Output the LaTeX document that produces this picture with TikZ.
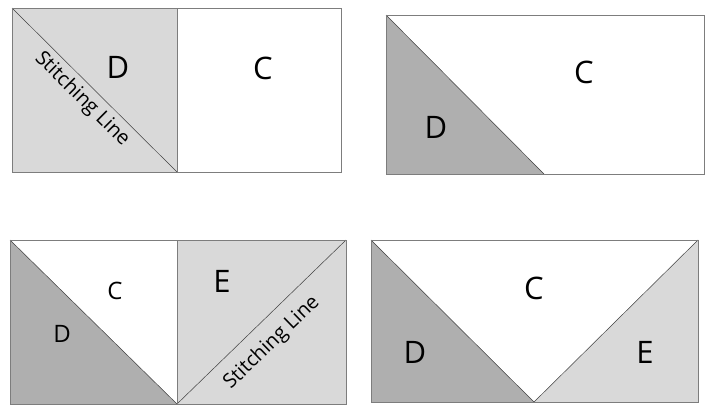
\documentclass[tikz,border=0pt]{standalone}
\usepackage{fontspec}
\setmainfont{Open Sans}
\definecolor{lightpatch}{RGB}{217,217,217}
\definecolor{darkpatch}{RGB}{175,175,175}
\definecolor{edgegray}{RGB}{125,125,125}
\usepackage{tikz}

\begin{document}
\begin{tikzpicture}[
        x=1pt, y=-1pt,
        block/.style={draw=edgegray, line width=0.9pt},
        seam/.style={draw=black!75, line width=0.5pt},
        letter/.style={font=\fontsize{31}{36}\selectfont, inner sep=0pt},
        smallletter/.style={font=\fontsize{24}{28}\selectfont, inner sep=0pt},
        stitch/.style={font=\fontsize{20}{24}\selectfont, sloped, inner sep=0pt}
    ]
        \useasboundingbox (0,0) rectangle (711,405);

        % top left: D square beside C square
        \fill[lightpatch] (12,8) rectangle (177,172);
        \draw[seam] (12,8) -- node[stitch, below=5pt, pos=0.49] (stitchA) {Stitching Line} (177,172);
        \draw[block] (12,8) rectangle (341,172) (177,8) -- (177,172);
        \node[letter] (dA) at (118,67) {D};
        \node[letter] (cA) at (263,68) {C};

        % top right: D folded over
        \fill[darkpatch] (386,15) -- (544,174) -- (386,174) -- cycle;
        \draw[seam] (386,15) -- (544,174);
        \draw[block] (386,15) rectangle (704,174);
        \node[letter] (cB) at (584,72) {C};
        \node[letter] (dB) at (436,127) {D};

        % bottom left: E square beside the flying goose
        \fill[darkpatch] (10,240) -- (177,404) -- (10,404) -- cycle;
        \fill[lightpatch] (177,240) rectangle (346,404);
        \draw[seam] (10,240) -- (177,404);
        \draw[seam] (177,404) -- node[stitch, below=12pt, pos=0.47] (stitchC) {Stitching Line} (346,240);
        \draw[block] (10,240) rectangle (346,404) (177,240) -- (177,404);
        \node[smallletter] (cC) at (115,291) {C};
        \node[smallletter] (dC) at (62,334) {D};
        \node[letter] (eC) at (222,281) {E};

        % bottom right: finished unit
        \fill[darkpatch] (371,240) -- (534,402) -- (371,402) -- cycle;
        \fill[lightpatch] (698,240) -- (698,402) -- (534,402) -- cycle;
        \draw[seam] (371,240) -- (534,402) -- (698,240);
        \draw[block] (371,240) rectangle (698,402);
        \node[letter] (cD) at (534,288) {C};
        \node[letter] (dD) at (415,352) {D};
        \node[letter] (eD) at (645,352) {E};
    \end{tikzpicture}
\end{document}
